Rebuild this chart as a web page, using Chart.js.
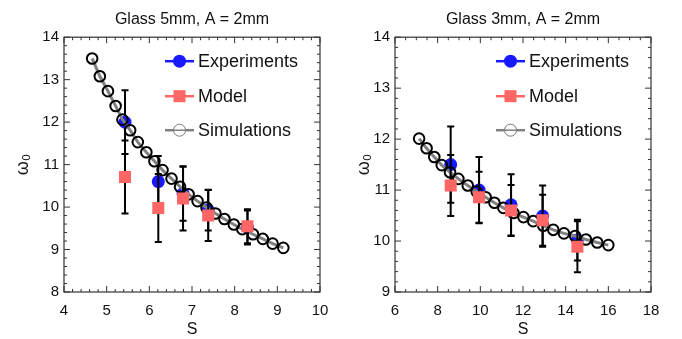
<!DOCTYPE html>
<html>
<head>
<meta charset="utf-8">
<script src="https://cdn.jsdelivr.net/npm/chart.js@4"></script>
<style>
body { margin: 0; background: #fff; overflow: hidden; }
#wrap { position: relative; width: 682px; height: 339px; }
canvas { position: absolute; top: 0; }
</style>
</head>
<body>
<div id="wrap">
  <canvas id="left-chart" width="341" height="339" style="left:0"></canvas>
  <canvas id="right-chart" width="341" height="339" style="left:341px"></canvas>
</div>
<script>
const FONT = "'Liberation Sans', Arial, sans-serif";
const EXP_COLOR = "rgb(25,25,255)";
const MODEL_COLOR = "rgb(255,102,102)";
const SIM_LINE = "rgb(128,128,128)";

// Glass 5mm
const leftTitle = "Glass 5mm, A = 2mm";
const leftSimS = [4.66, 4.84, 5.03, 5.21, 5.37, 5.55, 5.73, 5.93, 6.12, 6.31, 6.52, 6.72, 6.92, 7.13, 7.34, 7.55, 7.76, 7.98, 8.18, 8.43, 8.66, 8.89, 9.14];
const leftSimW = [13.5, 13.08, 12.73, 12.38, 12.06, 11.81, 11.53, 11.29, 11.08, 10.87, 10.67, 10.48, 10.30, 10.14, 9.99, 9.85, 9.72, 9.59, 9.48, 9.36, 9.25, 9.14, 9.04];
const leftExpS = [5.43, 6.21, 6.79, 7.38, 8.3];
const leftExpW = [12.0, 10.6, 10.32, 9.93, 9.52];
const leftExpErr = [0.75, 0.6, 0.64, 0.48, 0.4];
const leftModW = [10.71, 9.98, 10.2, 9.8, 9.55];
const leftModErr = [0.86, 0.8, 0.75, 0.6, 0.4];
const leftXTicks = [4, 5, 6, 7, 8, 9, 10];
const leftYTicks = [8, 9, 10, 11, 12, 13, 14];

// Glass 3mm
const rightTitle = "Glass 3mm, A = 2mm";
const rightSimS = [7.13, 7.48, 7.84, 8.19, 8.58, 8.97, 9.41, 9.83, 10.25, 10.66, 11.08, 11.55, 12.02, 12.48, 12.95, 13.42, 13.92, 14.44, 14.95, 15.48, 16.0];
const rightSimW = [12.01, 11.82, 11.65, 11.49, 11.35, 11.22, 11.09, 10.97, 10.86, 10.75, 10.65, 10.55, 10.47, 10.39, 10.30, 10.22, 10.15, 10.10, 10.03, 9.97, 9.92];
const rightExpS = [8.61, 9.94, 11.44, 12.92, 14.55];
const rightExpW = [11.5, 11.0, 10.71, 10.49, 10.02];
const rightExpErr = [0.75, 0.65, 0.6, 0.6, 0.4];
const rightModW = [11.09, 10.86, 10.6, 10.41, 9.89];
const rightModErr = [0.6, 0.5, 0.5, 0.5, 0.5];
const rightXTicks = [6, 8, 10, 12, 14, 16, 18];
const rightYTicks = [9, 10, 11, 12, 13, 14];

const seriesNames = ["Experiments", "Model", "Simulations"];

// error bars drawn just before their dataset so the markers sit on top
const errorBars = {
    id: "errorBars",
    beforeDatasetDraw(chart, args) {
        const ds = chart.data.datasets[args.index];
        if (!ds.errors) return;
        const ctx = chart.ctx;
        const y = chart.scales.y;
        ctx.save();
        ctx.strokeStyle = "#000";
        ctx.lineWidth = 2;
        ctx.beginPath();
        args.meta.data.forEach((pt, i) => {
            const v = ds.data[i].y;
            const top = y.getPixelForValue(v + ds.errors[i]);
            const bot = y.getPixelForValue(v - ds.errors[i]);
            ctx.moveTo(pt.x, top);
            ctx.lineTo(pt.x, bot);
            ctx.moveTo(pt.x - 3.5, top);
            ctx.lineTo(pt.x + 3.5, top);
            ctx.moveTo(pt.x - 3.5, bot);
            ctx.lineTo(pt.x + 3.5, bot);
        });
        ctx.stroke();
        ctx.restore();
    }
};

// box frame with inward ticks on all four sides
const frameTicks = {
    id: "frameTicks",
    afterDatasetsDraw(chart, args, opts) {
        const { ctx, chartArea: a, scales: { x, y } } = chart;
        ctx.save();
        ctx.strokeStyle = "#333";
        ctx.lineWidth = 1.2;
        ctx.strokeRect(a.left, a.top, a.width, a.height);
        ctx.lineWidth = 1;
        ctx.beginPath();
        const isMajor = (v, step) => Math.abs(v / step - Math.round(v / step)) < 1e-6;
        for (let v = x.min; v <= x.max + 1e-9; v += opts.xMinor) {
            const len = isMajor(v, opts.xMajor) ? 6 : 3;
            const px = x.getPixelForValue(v);
            ctx.moveTo(px, a.bottom); ctx.lineTo(px, a.bottom - len);
            ctx.moveTo(px, a.top); ctx.lineTo(px, a.top + len);
        }
        for (let v = y.min; v <= y.max + 1e-9; v += opts.yMinor) {
            const len = isMajor(v, opts.yMajor) ? 6 : 3;
            const py = y.getPixelForValue(v);
            ctx.moveTo(a.left, py); ctx.lineTo(a.left + len, py);
            ctx.moveTo(a.right, py); ctx.lineTo(a.right - len, py);
        }
        ctx.stroke();
        ctx.restore();
    }
};

// legend placed inside the plot, top right
const innerLegend = {
    id: "innerLegend",
    afterDraw(chart) {
        const { ctx, chartArea: a } = chart;
        const rows = [24, 59, 93];
        const x0 = a.left + 101, x1 = a.left + 130, xm = (x0 + x1) / 2;
        ctx.save();
        seriesNames.forEach((name, i) => {
            const yy = a.top + rows[i];
            ctx.beginPath();
            ctx.lineWidth = 2.5;
            ctx.strokeStyle = i === 0 ? EXP_COLOR : i === 1 ? MODEL_COLOR : SIM_LINE;
            ctx.moveTo(x0, yy);
            ctx.lineTo(x1, yy);
            ctx.stroke();
            if (i === 0) {
                ctx.fillStyle = EXP_COLOR;
                ctx.beginPath();
                ctx.arc(xm, yy, 6.5, 0, Math.PI * 2);
                ctx.fill();
            } else if (i === 1) {
                ctx.fillStyle = MODEL_COLOR;
                ctx.fillRect(xm - 6, yy - 6, 12, 12);
            } else {
                ctx.fillStyle = "#fff";
                ctx.strokeStyle = "#777";
                ctx.lineWidth = 1;
                ctx.beginPath();
                ctx.arc(xm, yy, 6, 0, Math.PI * 2);
                ctx.fill();
                ctx.stroke();
                ctx.strokeStyle = SIM_LINE;
                ctx.lineWidth = 1.5;
                ctx.beginPath();
                ctx.moveTo(xm - 6, yy);
                ctx.lineTo(xm + 6, yy);
                ctx.stroke();
            }
            ctx.fillStyle = "#111";
            ctx.font = "18px " + FONT;
            ctx.textAlign = "left";
            ctx.textBaseline = "middle";
            ctx.fillText(name, a.left + 134, yy + 1);
        });
        ctx.restore();
    }
};

function points(xs, ys) {
    return xs.map((s, i) => ({ x: s, y: ys[i] }));
}

function makeChart(id, p) {
    return new Chart(document.getElementById(id), {
        type: "scatter",
        data: {
            datasets: [
                {
                    label: "Model",
                    data: points(p.expS, p.modW),
                    errors: p.modErr,
                    pointStyle: "rect",
                    pointRadius: 8.5,
                    pointBorderWidth: 0,
                    backgroundColor: MODEL_COLOR,
                    borderColor: MODEL_COLOR
                },
                {
                    label: "Simulations",
                    data: points(p.simS, p.simW),
                    showLine: true,
                    borderColor: SIM_LINE,
                    borderWidth: 3,
                    pointRadius: 5.3,
                    pointBorderColor: "#000",
                    pointBorderWidth: 2,
                    pointBackgroundColor: "rgba(255,255,255,0)"
                },
                {
                    label: "Experiments",
                    data: points(p.expS, p.expW),
                    errors: p.expErr,
                    pointRadius: 6.5,
                    pointBorderWidth: 0,
                    backgroundColor: EXP_COLOR,
                    borderColor: EXP_COLOR
                }
            ]
        },
        options: {
            responsive: false,
            animation: false,
            devicePixelRatio: 1,
            layout: { padding: { right: p.padRight } },
            plugins: {
                legend: { display: false },
                tooltip: { enabled: false },
                title: {
                    display: true,
                    fullSize: false,
                    text: p.title,
                    color: "#111",
                    font: { family: FONT, size: 16, weight: "normal" },
                    padding: { top: 10, bottom: 8 }
                },
                frameTicks: p.ticks
            },
            scales: {
                x: {
                    type: "linear",
                    min: p.xTicks[0],
                    max: p.xTicks[p.xTicks.length - 1],
                    afterBuildTicks: (s) => { s.ticks = p.xTicks.map((v) => ({ value: v })); },
                    afterFit: (s) => { s.height = 47; },
                    grid: { display: false, drawTicks: false },
                    border: { display: false },
                    ticks: { color: "#111", font: { family: FONT, size: 15 }, padding: 10, maxRotation: 0 },
                    title: {
                        display: true,
                        text: "S",
                        color: "#111",
                        font: { family: FONT, size: 16 },
                        padding: { top: 0, bottom: 0 }
                    }
                },
                y: {
                    type: "linear",
                    min: p.yTicks[0],
                    max: p.yTicks[p.yTicks.length - 1],
                    afterBuildTicks: (s) => { s.ticks = p.yTicks.map((v) => ({ value: v })); },
                    afterFit: (s) => { s.width = p.yWidth; },
                    grid: { display: false, drawTicks: false },
                    border: { display: false },
                    ticks: { color: "#111", font: { family: FONT, size: 15 }, padding: 5 },
                    title: {
                        display: true,
                        text: "ω₀",
                        color: "#111",
                        font: { family: FONT, size: 18 },
                        padding: { top: 12, bottom: 0 }
                    }
                }
            }
        },
        plugins: [errorBars, frameTicks, innerLegend]
    });
}

makeChart("left-chart", {
    title: leftTitle,
    simS: leftSimS, simW: leftSimW,
    expS: leftExpS, expW: leftExpW, expErr: leftExpErr,
    modW: leftModW, modErr: leftModErr,
    xTicks: leftXTicks, yTicks: leftYTicks,
    yWidth: 64, padRight: 21,
    ticks: { xMajor: 1, xMinor: 0.2, yMajor: 1, yMinor: 0.2 }
});

makeChart("right-chart", {
    title: rightTitle,
    simS: rightSimS, simW: rightSimW,
    expS: rightExpS, expW: rightExpW, expErr: rightExpErr,
    modW: rightModW, modErr: rightModErr,
    xTicks: rightXTicks, yTicks: rightYTicks,
    yWidth: 54, padRight: 31,
    ticks: { xMajor: 2, xMinor: 0.5, yMajor: 1, yMinor: 0.2 }
});
</script>
</body>
</html>
